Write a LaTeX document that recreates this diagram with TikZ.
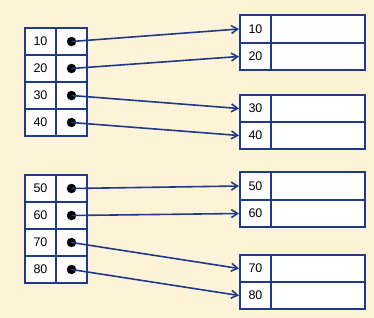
\documentclass[tikz,border=0pt]{standalone}
\usepackage{fontspec}
\setmainfont{Liberation Sans}
\usetikzlibrary{arrows.meta,positioning}
\definecolor{bg}{HTML}{FDF3D9}
\definecolor{navy}{HTML}{1F3A87}

\begin{document}
\begin{tikzpicture}[
    x=1bp, y=-1bp,
    every node/.style={font=\fontsize{12.5bp}{14bp}\selectfont},
    cell/.style={rectangle, draw=navy, fill=white, line width=2bp,
                 minimum width=31bp, minimum height=27bp, inner sep=0pt},
    val/.style={cell, minimum width=94bp, minimum height=27.25bp},
    key/.style={cell, minimum height=27.25bp},
    dot/.style={circle, fill=black, minimum size=9.5bp, inner sep=0pt},
    e/.style={navy, line width=1.6bp, -{Straight Barb[length=2.2mm, width=2.8mm]}},
  ]
  \useasboundingbox[fill=bg] (0,0) rectangle (374,318);
  % index blocks
  \node[cell] (k10) at (40.5, 41.5) {10};
  \node[cell] (p10) at (71.5, 41.5) {};
  \node[cell] (k20) at (40.5, 68.5) {20};
  \node[cell] (p20) at (71.5, 68.5) {};
  \node[cell] (k30) at (40.5, 95.5) {30};
  \node[cell] (p30) at (71.5, 95.5) {};
  \node[cell] (k40) at (40.5, 122.5) {40};
  \node[cell] (p40) at (71.5, 122.5) {};
  \node[cell] (k50) at (40.5, 188.5) {50};
  \node[cell] (p50) at (71.5, 188.5) {};
  \node[cell] (k60) at (40.5, 215.5) {60};
  \node[cell] (p60) at (71.5, 215.5) {};
  \node[cell] (k70) at (40.5, 242.5) {70};
  \node[cell] (p70) at (71.5, 242.5) {};
  \node[cell] (k80) at (40.5, 269.5) {80};
  \node[cell] (p80) at (71.5, 269.5) {};
  % pointers
  \node[dot] (d10) at (p10.center) {};
  \node[dot] (d20) at (p20.center) {};
  \node[dot] (d30) at (p30.center) {};
  \node[dot] (d40) at (p40.center) {};
  \node[dot] (d50) at (p50.center) {};
  \node[dot] (d60) at (p60.center) {};
  \node[dot] (d70) at (p70.center) {};
  \node[dot] (d80) at (p80.center) {};
  % data blocks
  \node[key] (r10) at (255.5, 29) {10};
  \node[val] (v10) at (318, 29) {};
  \node[key] (r20) at (255.5, 56.5) {20};
  \node[val] (v20) at (318, 56.5) {};
  \node[key] (r30) at (255.5, 108.5) {30};
  \node[val] (v30) at (318, 108.5) {};
  \node[key] (r40) at (255.5, 135.5) {40};
  \node[val] (v40) at (318, 135.5) {};
  \node[key] (r50) at (255.5, 186) {50};
  \node[val] (v50) at (318, 186) {};
  \node[key] (r60) at (255.5, 213.5) {60};
  \node[val] (v60) at (318, 213.5) {};
  \node[key] (r70) at (255.5, 268.5) {70};
  \node[val] (v70) at (318, 268.5) {};
  \node[key] (r80) at (255.5, 295.5) {80};
  \node[val] (v80) at (318, 295.5) {};
  \draw[e] (d10.center) -- (r10.west);
  \draw[e] (d20.center) -- (r20.west);
  \draw[e] (d30.center) -- (r30.west);
  \draw[e] (d40.center) -- (r40.west);
  \draw[e] (d50.center) -- (r50.west);
  \draw[e] (d60.center) -- (r60.west);
  \draw[e] (d70.center) -- (r70.west);
  \draw[e] (d80.center) -- (r80.west);
\end{tikzpicture}
\end{document}
